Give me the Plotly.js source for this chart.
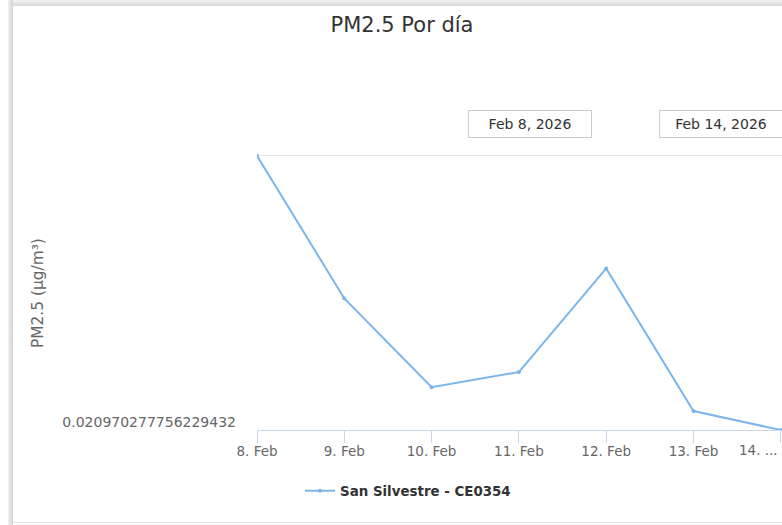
<!DOCTYPE html>
<html>
<head>
<meta charset="utf-8">
<script src="https://cdn.plot.ly/plotly-3.0.1.min.js"></script>
<style>
  html, body { margin: 0; padding: 0; background: #fff; }
  #wrap { position: relative; width: 782px; height: 525px; overflow: hidden; }
  #chart { position: absolute; left: 0; top: 0; width: 782px; height: 525px; }
  .bd { position: absolute; pointer-events: none; }
</style>
</head>
<body>
<div id="wrap">
  <div id="chart"></div>
  <div class="bd" style="left:8px;top:0;width:800px;height:6px;background:linear-gradient(#f2f2f2,#d9d9d9);"></div>
  <div class="bd" style="left:8px;top:0;width:5px;height:525px;background:linear-gradient(90deg,#f0f0f0,#d4d4d4);"></div>
  <div class="bd" style="left:13px;top:522px;width:800px;height:1px;background:#e6e6e6;"></div>
</div>
<script>
// ---- data ----
const dates = ["2026-02-08", "2026-02-09", "2026-02-10", "2026-02-11", "2026-02-12", "2026-02-13", "2026-02-14"];
const tickLabels = ["8. Feb", "9. Feb", "10. Feb", "11. Feb", "12. Feb", "13. Feb", "14. ..."];
const pm25 = [10.0, 4.81, 1.58, 2.13, 5.90, 0.71, 0.020970277756229432];
const seriesName = "San Silvestre - CE0354";
const yMinLabel = "0.020970277756229432";
const rangeStart = "Feb 8, 2026";
const rangeEnd = "Feb 14, 2026";

const W = 782, H = 525;
const yMin = Math.min(...pm25), yMax = Math.max(...pm25);
// plot area in pixels
const plotTop = 145, plotBottom = 430, plotLeft = 257, plotW = W - plotLeft;
const gridTopPx = 155;
const yGrid = yMax * 1.003;
const yTopRange = yMin + (yGrid - yMin) * (plotBottom - plotTop) / (plotBottom - gridTopPx);
const plotH = plotBottom - plotTop;

// the last tick label is clipped by the chart edge, so it is drawn right-aligned
const shownTickText = tickLabels.map((t, i) => i === tickLabels.length - 1 ? "" : t);

const trace = {
  x: dates,
  y: pm25,
  type: "scatter",
  mode: "lines+markers",
  name: seriesName,
  line: { color: "#7cb5ec", width: 2 },
  marker: { color: "#7cb5ec", size: 4 },
  showlegend: true
};

const layout = {
  width: W, height: H,
  margin: { l: plotLeft, r: 0, t: plotTop, b: H - plotBottom, pad: 0 },
  paper_bgcolor: "rgba(0,0,0,0)",
  plot_bgcolor: "rgba(0,0,0,0)",
  font: { family: "DejaVu Sans", color: "#666666" },
  title: {
    text: "PM2.5 Por día",
    font: { family: "DejaVu Sans", size: 21, color: "#333333" },
    xref: "container", x: 402 / W, xanchor: "center",
    yref: "container", y: 1 - 25 / H, yanchor: "middle"
  },
  xaxis: {
    type: "date",
    range: ["2026-02-08 00:00", "2026-02-14 00:20"],
    tickvals: dates,
    ticktext: shownTickText,
    ticks: "outside", ticklen: 12, tickwidth: 1, tickcolor: "#ccd6eb",
    showline: true, linecolor: "#ccd6eb", linewidth: 1,
    showgrid: false, zeroline: false,
    ticklabeloverflow: "allow",
    ticklabelstandoff: -3,
    tickfont: { family: "DejaVu Sans", size: 13.5, color: "#666666" },
    fixedrange: true
  },
  yaxis: {
    range: [yMin, yTopRange],
    tickvals: [yMin, yGrid],
    ticktext: [yMinLabel, ""],
    ticks: "", showline: false, zeroline: false,
    showgrid: true, gridcolor: "#e6e6e6", gridwidth: 1,
    ticklabelstandoff: 20,
    ticklabelshift: -8,
    tickfont: { family: "DejaVu Sans", size: 14, color: "#666666" },
    fixedrange: true
  },
  legend: {
    orientation: "h",
    xref: "container", yref: "container",
    x: 300 / W, xanchor: "left",
    y: 1 - 491 / H, yanchor: "middle",
    font: { family: "DejaVu Sans", size: 13.4, color: "#333333", weight: "bold" },
    bgcolor: "rgba(0,0,0,0)"
  },
  annotations: [
    {
      text: "PM2.5 (µg/m³)", textangle: -90,
      xref: "paper", yref: "paper",
      x: (38 - plotLeft) / plotW, y: (plotBottom - 293) / plotH,
      xanchor: "center", yanchor: "middle", showarrow: false,
      font: { family: "DejaVu Sans", size: 15.4, color: "#666666" }
    },
    {
      text: tickLabels[tickLabels.length - 1],
      xref: "paper", yref: "paper",
      x: (780 - plotLeft) / plotW, y: (plotBottom - 450) / plotH,
      xanchor: "right", yanchor: "middle", showarrow: false,
      font: { family: "DejaVu Sans", size: 13.5, color: "#666666" }
    },
    {
      text: rangeStart,
      xref: "paper", yref: "paper",
      x: (530 - plotLeft) / plotW, y: (plotBottom - 124) / plotH,
      xanchor: "center", yanchor: "middle", showarrow: false,
      width: 120, height: 24, borderpad: 1,
      bordercolor: "#cccccc", borderwidth: 1, bgcolor: "#ffffff",
      font: { family: "DejaVu Sans", size: 14, color: "#333333" }
    },
    {
      text: rangeEnd,
      xref: "paper", yref: "paper",
      x: (721 - plotLeft) / plotW, y: (plotBottom - 124) / plotH,
      xanchor: "center", yanchor: "middle", showarrow: false,
      width: 120, height: 24, borderpad: 1,
      bordercolor: "#cccccc", borderwidth: 1, bgcolor: "#ffffff",
      font: { family: "DejaVu Sans", size: 14, color: "#333333" }
    }
  ]
};

Plotly.newPlot("chart", [trace], layout, { displayModeBar: false, staticPlot: true });
</script>
</body>
</html>
